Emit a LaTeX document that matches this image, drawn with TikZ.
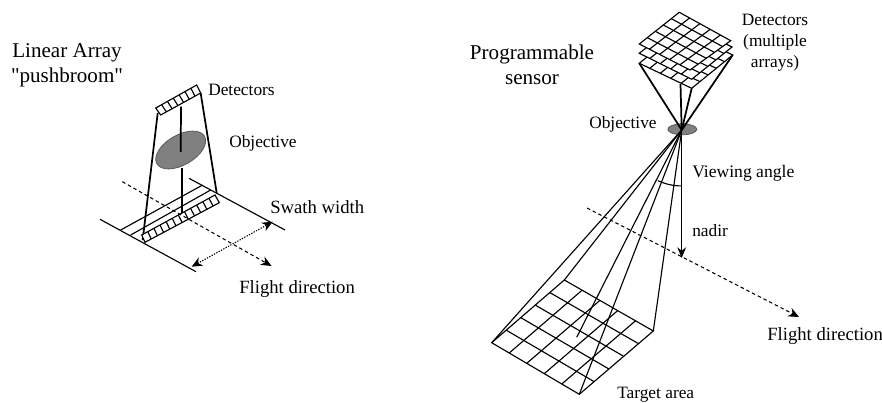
\documentclass[tikz,border=0pt]{standalone}
\usepackage{fontspec}
\setmainfont{Liberation Serif}
\newfontfamily\plainserif{Liberation Serif}
\usetikzlibrary{arrows.meta,calc}
\tikzset{
 lbl/.style={font=\fontsize{#1}{#1}\selectfont,anchor=base west,inner sep=0pt},
 lbl/.default=13pt,
 big/.style={font=\fontsize{15.8pt}{18.75pt}\selectfont,align=center,inner sep=0pt},
 det/.style={font=\fontsize{13pt}{15.75pt}\selectfont,align=center,inner sep=0pt},
 ln/.style={line width=0.85pt,black},
 thick line/.style={line width=1.3pt,black},
 dashline/.style={line width=0.8pt,dash pattern=on 2.6pt off 2.2pt,-{Stealth[length=8pt,width=7pt]}},
 dotline/.style={line width=0.8pt,dash pattern=on 1pt off 1pt,{Stealth[length=8pt,width=7pt]}-{Stealth[length=8pt,width=7pt]}},
 arrowline/.style={line width=1pt,-{Stealth[length=8pt,width=6.5pt]}},
 lens/.style={fill=black!50,draw=black!65,line width=0.6pt},
}
\newcommand{\gridpanel}[4]{%
 \fill[white] (#1)--(#2)--(#3)--(#4)--cycle;
 \draw[ln] (#1)--(#2)--(#3)--(#4)--cycle;
 \foreach \i in {1,...,4}{
  \draw[ln] ($(#1)!\i/5!(#2)$)--($(#4)!\i/5!(#3)$);
  \draw[ln] ($(#1)!\i/5!(#4)$)--($(#2)!\i/5!(#3)$);
 }}
\begin{document}
\begin{tikzpicture}[x=0.75pt,y=-0.75pt]
\useasboundingbox (0,0) rectangle (882,403);
% ---- left
\coordinate (dA) at (155.7,108);\coordinate (dB) at (196.7,85);\coordinate (dC) at (200.7,93);\coordinate (dD) at (160.7,115);
\draw[ln] (dA)--(dB)--(dC)--(dD)--cycle;
\foreach \i in {1,...,6}{\draw[ln] ($(dA)!\i/7!(dB)$)--($(dD)!\i/7!(dC)$);}
\draw[lens] (180.7,150) ellipse[x radius=27.5,y radius=15,rotate=30];
\coordinate (dl) at (157.7,113);\coordinate (dr) at (200.7,93.3);\coordinate (dm) at (181,106.7);
\coordinate (gl) at (142.7,240);\coordinate (gr) at (216.7,193);\coordinate (gm) at (181.7,213);
\coordinate (lc) at (180.7,152);\coordinate (ll) at (181.7,168.3);
\draw[thick line] (dl)--(gl);
\draw[thick line] (dr)--(gr);
\draw[thick line] (dm)--(lc);
\draw[thick line] (ll)--(gm);
\draw[ln] (100,219.3)--(196,271.7);
\draw[ln] (189,178.3)--(285,230);
\draw[ln] (120.7,230)--(202.7,185);
\draw[ln] (130.7,235)--(210.7,190);
\coordinate (pA) at (141.7,235);\coordinate (pB) at (215,195);\coordinate (pC) at (219.3,202.7);\coordinate (pD) at (145,242.3);
\fill[white] (pA)--(pB)--(pC)--(pD)--cycle;
\draw[ln] (pA)--(pB)--(pC)--(pD)--cycle;
\foreach \i in {1,...,11}{\draw[ln] ($(pA)!\i/12!(pB)$)--($(pD)!\i/12!(pC)$);}
\coordinate (fs) at (122.3,181.7);\coordinate (fe) at (271.5,266);
\draw[dashline] (fs)--(fe);
\coordinate (sa) at (191.7,266.7);\coordinate (sb) at (272.7,221.7);
\draw[dotline] (sa)--(sb);
\node[big] (t1) at (67,65) {Linear Array\\{\plainserif "pushbroom"}};
\node[lbl] (t2) at (208,95) {Detectors};
\node[lbl] (t3) at (229,147) {Objective};
\node[lbl=14pt] (t4) at (270,213) {Swath width};
\node[lbl=14pt] (t5) at (239,293) {Flight direction};
% ---- right
\coordinate (ap) at (681.7,130);
\draw[lens] (682.3,129.3) ellipse[x radius=14.5,y radius=5.5];
\coordinate (T1) at (491.7,342.7);\coordinate (T2) at (564.3,280);\coordinate (T3) at (653.3,331);\coordinate (T4) at (579.3,394.3);
\draw[ln] (T2)--(T3)--(T4)--(T1)--cycle;
\foreach \i in {1,...,4}{
 \draw[ln] ($(T1)!\i/5!(T2)$)--($(T4)!\i/5!(T3)$);
 \draw[ln] ($(T1)!\i/5!(T4)$)--($(T2)!\i/5!(T3)$);
}
\coordinate (tc) at (576.7,337.3);
\draw[ln] (ap)--(T1);\draw[ln] (ap)--(T2);\draw[ln] (ap)--(T3);\draw[ln] (ap)--(T4);\draw[ln] (ap)--(tc);
\coordinate (na) at (681.7,258);
\draw[arrowline] (ap)--(na);
\draw[ln] (658,180.7) arc[start angle=115,end angle=90,radius=56];
\coordinate (fs2) at (587,208);\coordinate (fe2) at (799,317);
\draw[dashline] (fs2)--(fe2);
% detectors
\coordinate (L3) at (639.3,63.3);\coordinate (B3) at (691.7,88.3);\coordinate (R3) at (732.7,55);\coordinate (U3) at (680.3,30);
\coordinate (L2) at (639.3,53.3);\coordinate (B2) at (691.7,79.3);\coordinate (R2) at (732,47);\coordinate (U2) at (680,21);
\coordinate (L1) at (639.3,44);\coordinate (B1) at (690,70);\coordinate (R1) at (730.7,40.7);\coordinate (U1) at (679.3,12.3);
\draw[thick line] (L3)--(ap);\draw[thick line] (B3)--(ap);\draw[thick line] (R3)--(ap);\draw[thick line] (680.5,84)--(ap);
\gridpanel{L3}{B3}{R3}{U3}
\gridpanel{L2}{B2}{R2}{U2}
\gridpanel{L1}{B1}{R1}{U1}
\node[big] (t6) at (532,65) {Programmable\\sensor};
\node[det] (t7) at (775,43) {Detectors\\(multiple\\arrays)};
\node[lbl] (t8) at (589,128) {Objective};
\node[lbl=13.2pt] (t9) at (692,177) {Viewing angle};
\node[lbl] (t10) at (692,236) {nadir};
\node[lbl=14pt] (t11) at (767,340) {Flight direction};
\node[lbl] (t12) at (617,398) {Target area};
\end{tikzpicture}
\end{document}
